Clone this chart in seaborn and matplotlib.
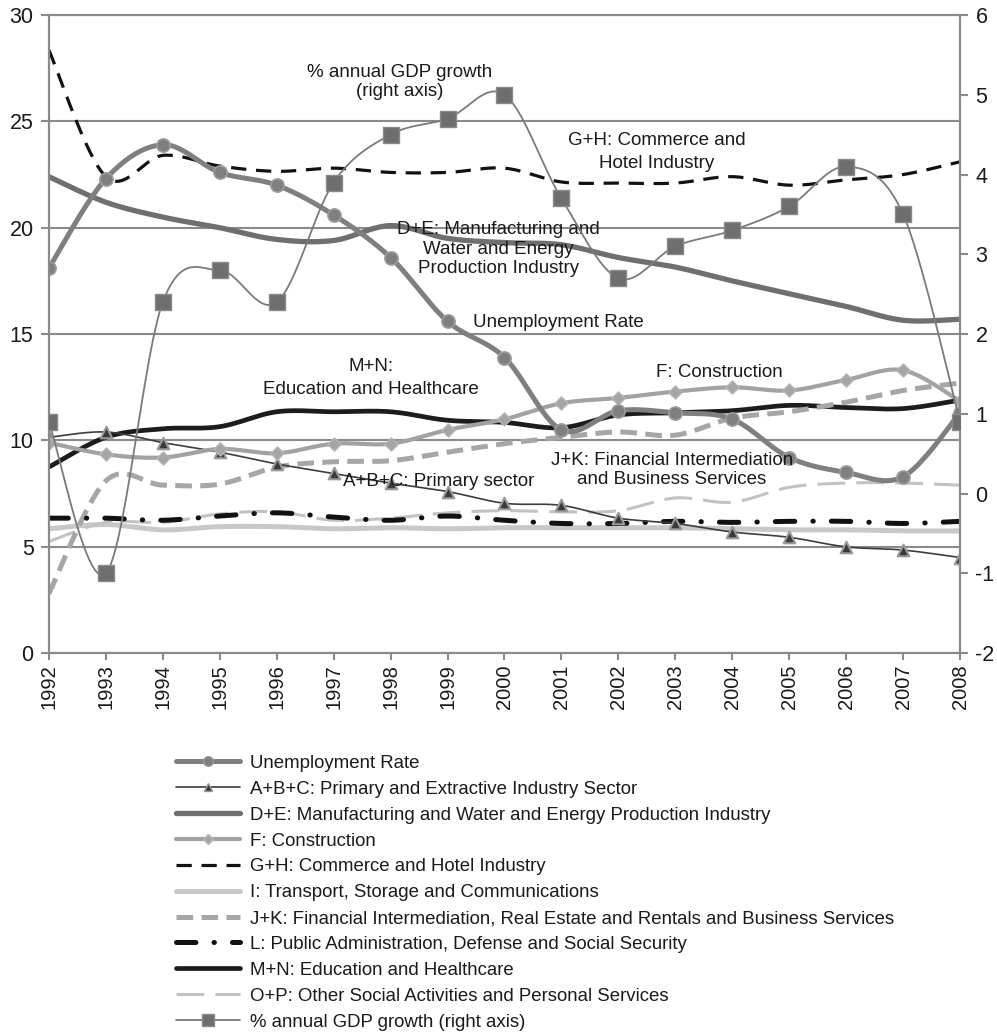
import numpy as np
import pandas as pd
import matplotlib
matplotlib.use("Agg")
import matplotlib.pyplot as plt
from matplotlib.lines import Line2D
import seaborn as sns

# ===============================
# DATA
# ===============================
years = list(range(1992, 2009))

unemployment = [18.1, 22.3, 23.9, 22.6, 22.0, 20.6, 18.6, 15.6, 13.9,
                10.5, 11.4, 11.3, 11.0, 9.2, 8.5, 8.3, 11.3]
primary_abc = [10.15, 10.4, 9.9, 9.45, 8.9, 8.45, 8.0, 7.6, 7.05,
               6.95, 6.35, 6.1, 5.7, 5.45, 5.0, 4.85, 4.5]
manufacturing_de = [22.4, 21.2, 20.5, 20.0, 19.45, 19.4, 20.1, 19.5, 19.3,
                    19.2, 18.6, 18.15, 17.5, 16.9, 16.3, 15.65, 15.7]
construction_f = [9.9, 9.35, 9.2, 9.6, 9.4, 9.85, 9.85, 10.5, 11.0,
                  11.75, 12.0, 12.3, 12.5, 12.35, 12.85, 13.3, 11.85]
commerce_gh = [28.35, 22.4, 23.4, 22.9, 22.65, 22.8, 22.6, 22.6, 22.8,
               22.15, 22.1, 22.1, 22.4, 22.0, 22.25, 22.5, 23.1]
transport_i = [5.85, 6.05, 5.8, 5.95, 5.95, 5.85, 5.9, 5.85, 5.9,
               5.9, 5.9, 5.9, 5.85, 5.8, 5.8, 5.75, 5.75]
financial_jk = [2.8, 8.1, 7.9, 7.95, 8.75, 9.0, 9.05, 9.45, 9.85,
                10.15, 10.4, 10.25, 11.05, 11.35, 11.8, 12.35, 12.7]
public_l = [6.35, 6.35, 6.25, 6.45, 6.6, 6.4, 6.25, 6.45, 6.25,
            6.1, 6.1, 6.2, 6.15, 6.2, 6.2, 6.1, 6.2]
education_mn = [8.75, 10.15, 10.55, 10.65, 11.35, 11.35, 11.35, 10.95, 10.85,
                10.6, 11.2, 11.3, 11.4, 11.65, 11.55, 11.5, 11.9]
other_op = [5.25, 6.15, 6.15, 6.55, 6.65, 6.25, 6.35, 6.6, 6.7,
            6.65, 6.7, 7.3, 7.1, 7.8, 8.0, 8.0, 7.9]
gdp_growth = [0.9, -1.0, 2.4, 2.8, 2.4, 3.9, 4.5, 4.7, 5.0,
              3.7, 2.7, 3.1, 3.3, 3.6, 4.1, 3.5, 0.9]

labels = [
    "Unemployment Rate",
    "A+B+C: Primary and Extractive Industry Sector",
    "D+E: Manufacturing and Water and Energy Production Industry",
    "F: Construction",
    "G+H: Commerce and Hotel Industry",
    "I: Transport, Storage and Communications",
    "J+K: Financial Intermediation, Real Estate and Rentals and Business Services",
    "L: Public Administration, Defense and Social Security",
    "M+N: Education and Healthcare",
    "O+P: Other Social Activities and Personal Services",
    "% annual GDP growth (right axis)",
]


def smooth(x, y, n=24):
    # Excel-style smoothed line: cubic Bezier through the points
    x = np.asarray(x, float)
    y = np.asarray(y, float)
    px = np.concatenate([[x[0]], x, [x[-1]]])
    py = np.concatenate([[y[0]], y, [y[-1]]])
    t = np.linspace(0, 1, n)[:, None]
    xs, ys = [], []
    for i in range(1, len(px) - 2):
        p0 = np.array([px[i], py[i]])
        p3 = np.array([px[i + 1], py[i + 1]])
        c1 = p0 + (np.array([px[i + 1], py[i + 1]]) - np.array([px[i - 1], py[i - 1]])) / 6
        c2 = p3 - (np.array([px[i + 2], py[i + 2]]) - np.array([px[i], py[i]])) / 6
        pts = ((1 - t) ** 3) * p0 + 3 * ((1 - t) ** 2) * t * c1 + 3 * (1 - t) * t ** 2 * c2 + t ** 3 * p3
        xs.append(pts[:, 0])
        ys.append(pts[:, 1])
    return np.concatenate(xs), np.concatenate(ys)


# ===============================
# STYLE
# ===============================
sns.set_style("white")
plt.rcParams["font.family"] = ["Liberation Sans", "DejaVu Sans"]
plt.rcParams["lines.scale_dashes"] = False
plt.rcParams["axes.unicode_minus"] = False

GRID = "#8a8a8a"

fig = plt.figure(figsize=(9.97, 10.32), dpi=100)
ax = fig.add_axes([0.049, 0.367, 0.914, 0.6185])
ax2 = ax.twinx()

# (series, color, linewidth, linestyle)
left_series = [
    (education_mn, "#1c1c1c", 3.4, "-"),
    (manufacturing_de, "#6f6f6f", 3.8, "-"),
    (transport_i, "#c8c8c8", 3.6, "-"),
    (other_op, "#c2c2c2", 2.2, (0, (20, 8))),
    (financial_jk, "#a6a6a6", 3.6, (0, (12, 6))),
    (public_l, "#111111", 3.6, (0, (14, 13, 0.3, 13))),
    (commerce_gh, "#111111", 2.3, (0, (11, 7))),
    (primary_abc, "#3c3c3c", 1.2, "-"),
    (construction_f, "#a2a2a2", 3.0, "-"),
    (unemployment, "#7f7f7f", 3.6, "-"),
]

for vals, col, lw, ls in left_series:
    sx, sy = smooth(years, vals)
    sns.lineplot(x=sx, y=sy, ax=ax, color=col, linewidth=lw, linestyle=ls,
                 sort=False, estimator=None)
    line = ax.lines[-1]
    line.set_dash_capstyle("round" if vals is public_l else "butt")

# markers
sns.scatterplot(x=years, y=primary_abc, ax=ax, marker="^", s=70,
                color="#3a3a3a", edgecolor="#9a9a9a", linewidth=1.5, zorder=5)
sns.scatterplot(x=years, y=construction_f, ax=ax, marker="D", s=45,
                color="#a5a5a5", edgecolor="#b5b5b5", linewidth=1, zorder=5)
sns.scatterplot(x=years, y=unemployment, ax=ax, marker="o", s=90,
                color="#7f7f7f", edgecolor="#9c9c9c", linewidth=1.2, zorder=6)

# GDP on right axis
gx, gy = smooth(years, gdp_growth)
sns.lineplot(x=gx, y=gy, ax=ax2, color="#7a7a7a", linewidth=1.3,
             sort=False, estimator=None)
sns.scatterplot(x=years, y=gdp_growth, ax=ax2, marker="s", s=120,
                color="#6e6e6e", edgecolor="#8a8a8a", linewidth=1, zorder=6)

# ===============================
# AXES
# ===============================
ax.set_xlim(1992, 2008)
ax.set_ylim(0, 30)
ax.set_yticks(range(0, 31, 5))
ax.set_xticks(years)
ax.set_xticklabels([str(y) for y in years], rotation=90)
ax2.set_ylim(-2, 6)
ax2.set_yticks(range(-2, 7))

ax.grid(axis="y", color=GRID, linewidth=1.5)
ax.set_axisbelow(True)
ax.set_xlabel("")
ax.set_ylabel("")
ax2.set_ylabel("")

for a in (ax, ax2):
    for sp in a.spines.values():
        sp.set_color(GRID)
        sp.set_linewidth(1.5)

ax.tick_params(axis="y", length=6, width=1.5, color=GRID, pad=5,
               labelsize=15.5, labelcolor="#1a1a1a", left=True)
ax.tick_params(axis="x", length=5, width=1.5, color=GRID, pad=3,
               labelsize=14.5, labelcolor="#1a1a1a", bottom=True)
ax2.tick_params(axis="y", length=6, width=1.5, color=GRID, pad=5,
                labelsize=15.5, labelcolor="#1a1a1a", right=True)

# ===============================
# ANNOTATIONS
# ===============================
txt = dict(ha="center", va="center", fontsize=13.5, color="#1a1a1a", zorder=10)
ax.text(1998.16, 26.85, "% annual GDP growth\n(right axis)", linespacing=1.17, **txt)
ax.text(2002.68, 23.55, "G+H: Commerce and\nHotel Industry", linespacing=1.5, **txt)
ax.text(1999.89, 19.0, "D+E: Manufacturing and\nWater and Energy\nProduction Industry",
        linespacing=1.17, **txt)
ax.text(2000.94, 15.56, "Unemployment Rate", **txt)
ax.text(1997.66, 12.93, "M+N:\nEducation and Healthcare", linespacing=1.44, **txt)
ax.text(2003.78, 13.21, "F: Construction", **txt)
ax.text(1998.85, 8.09, "A+B+C: Primary sector", **txt)
ax.text(2002.94, 8.6, "J+K: Financial Intermediation\nand Business Services",
        linespacing=1.17, **txt)

# ===============================
# LEGEND
# ===============================
handles = [
    Line2D([], [], color="#7f7f7f", lw=3.6, marker="o", ms=7,
           mfc="#7f7f7f", mec="#9c9c9c"),
    Line2D([], [], color="#3c3c3c", lw=1.2, marker="^", ms=6,
           mfc="#3a3a3a", mec="#9a9a9a"),
    Line2D([], [], color="#6f6f6f", lw=3.8),
    Line2D([], [], color="#a2a2a2", lw=3.0, marker="D", ms=5,
           mfc="#a5a5a5", mec="#b5b5b5"),
    Line2D([], [], color="#111111", lw=2.3, ls=(0, (11, 7))),
    Line2D([], [], color="#c8c8c8", lw=3.6),
    Line2D([], [], color="#a6a6a6", lw=3.6, ls=(0, (12, 6))),
    Line2D([], [], color="#111111", lw=3.6, ls=(0, (14, 13, 0.3, 13)),
           dash_capstyle="round"),
    Line2D([], [], color="#1c1c1c", lw=3.4),
    Line2D([], [], color="#c2c2c2", lw=2.2, ls=(0, (20, 8))),
    Line2D([], [], color="#7a7a7a", lw=1.3, marker="s", ms=8,
           mfc="#6e6e6e", mec="#8a8a8a"),
]
fig.legend(handles, labels, loc="upper left", bbox_to_anchor=(0.1765, 0.2685),
           frameon=False, borderpad=0, borderaxespad=0, handlelength=3.44,
           handletextpad=0.54, labelspacing=0.475, fontsize=13.4,
           labelcolor="#1a1a1a")

fig.savefig("out.png", dpi=100)
